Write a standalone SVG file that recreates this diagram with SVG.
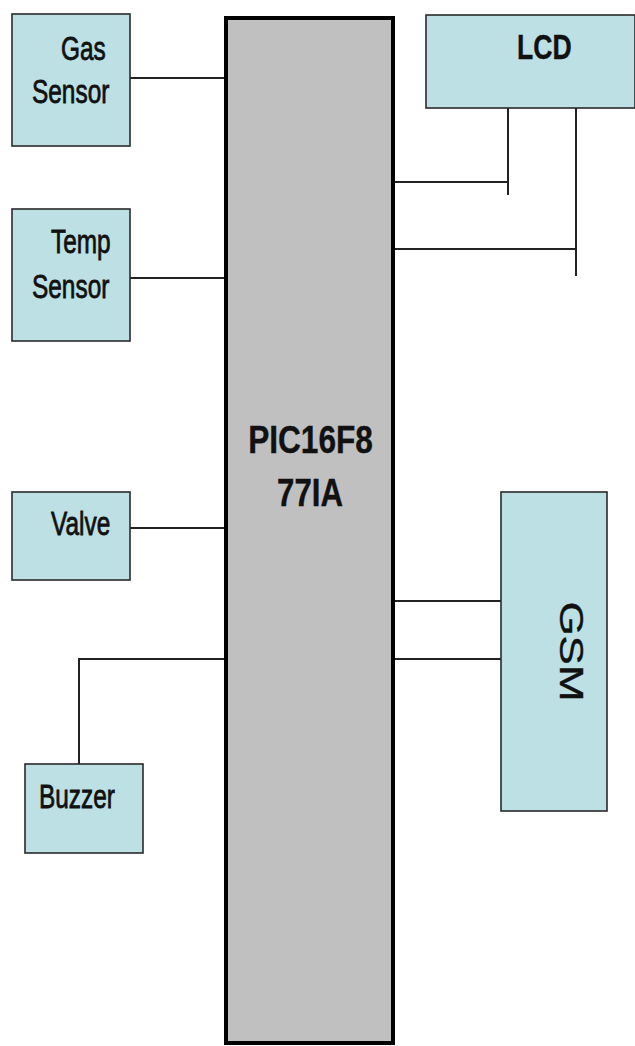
<svg xmlns="http://www.w3.org/2000/svg" width="635" height="1046" viewBox="0 0 635 1046">
  <style>
    .node { fill: #BCE0E3; stroke: #2a2a2a; stroke-width: 1.6; }
    .mcu { fill: #C0C0C0; stroke: #000; stroke-width: 4; }
    .wire { fill: none; stroke: #222; stroke-width: 2; }
    .lbl { font-family: "Liberation Sans", Arial, sans-serif; font-size: 33px; fill: #111; stroke: #111; stroke-width: 0.8px; }
    .bold { font-weight: bold; stroke-width: 0.4px; }
  </style>
  <rect width="635" height="1046" fill="#fff"/>
  <g id="connectors">
    <line class="wire" x1="130" y1="78" x2="224" y2="78"/>
    <line class="wire" x1="130" y1="278" x2="224" y2="278"/>
    <line class="wire" x1="130" y1="528" x2="224" y2="528"/>
    <polyline class="wire" points="224,659 79,659 79,764"/>
    <line class="wire" x1="395" y1="182" x2="508" y2="182"/>
    <line class="wire" x1="508" y1="97" x2="508" y2="195"/>
    <line class="wire" x1="395" y1="249" x2="576" y2="249"/>
    <line class="wire" x1="576" y1="97" x2="576" y2="276"/>
    <line class="wire" x1="395" y1="601" x2="501" y2="601"/>
    <line class="wire" x1="395" y1="659" x2="501" y2="659"/>
  </g>
  <g id="pic">
    <rect class="mcu" x="226" y="18" width="167" height="1025"/>
    <text class="lbl bold" text-anchor="middle" transform="matrix(0.8 0 0 1 310.5 453)" style="font-size:39.5px">PIC16F8</text>
    <text class="lbl bold" text-anchor="middle" transform="matrix(0.79 0 0 1 310 506)" style="font-size:39.5px">77IA</text>
  </g>
  <g id="gas-sensor">
    <rect class="node" x="12" y="14" width="118" height="132"/>
    <text class="lbl" transform="matrix(0.74 0 0 1 61 60)">Gas</text>
    <text class="lbl" transform="matrix(0.74 0 0 1 32 103)">Sensor</text>
  </g>
  <g id="temp-sensor">
    <rect class="node" x="12" y="209" width="118" height="132"/>
    <text class="lbl" transform="matrix(0.74 0 0 1 51 253)">Temp</text>
    <text class="lbl" transform="matrix(0.74 0 0 1 32 298)">Sensor</text>
  </g>
  <g id="valve">
    <rect class="node" x="12" y="492" width="118" height="88"/>
    <text class="lbl" transform="matrix(0.74 0 0 1 51 535)">Valve</text>
  </g>
  <g id="buzzer">
    <rect class="node" x="25" y="764" width="118" height="89"/>
    <text class="lbl" transform="matrix(0.74 0 0 1 39 808)">Buzzer</text>
  </g>
  <g id="lcd">
    <rect class="node" x="426" y="15" width="209" height="93"/>
    <text class="lbl bold" transform="matrix(0.74 0 0 1 517 59)" style="font-size:36px">LCD</text>
  </g>
  <g id="gsm">
    <rect class="node" x="501" y="492" width="106" height="319"/>
    <text class="lbl" text-anchor="middle" transform="translate(560 651.5) scale(0.74 1) rotate(90)" style="font-size:44px; stroke-width:0.5px">GSM</text>
  </g>
</svg>
